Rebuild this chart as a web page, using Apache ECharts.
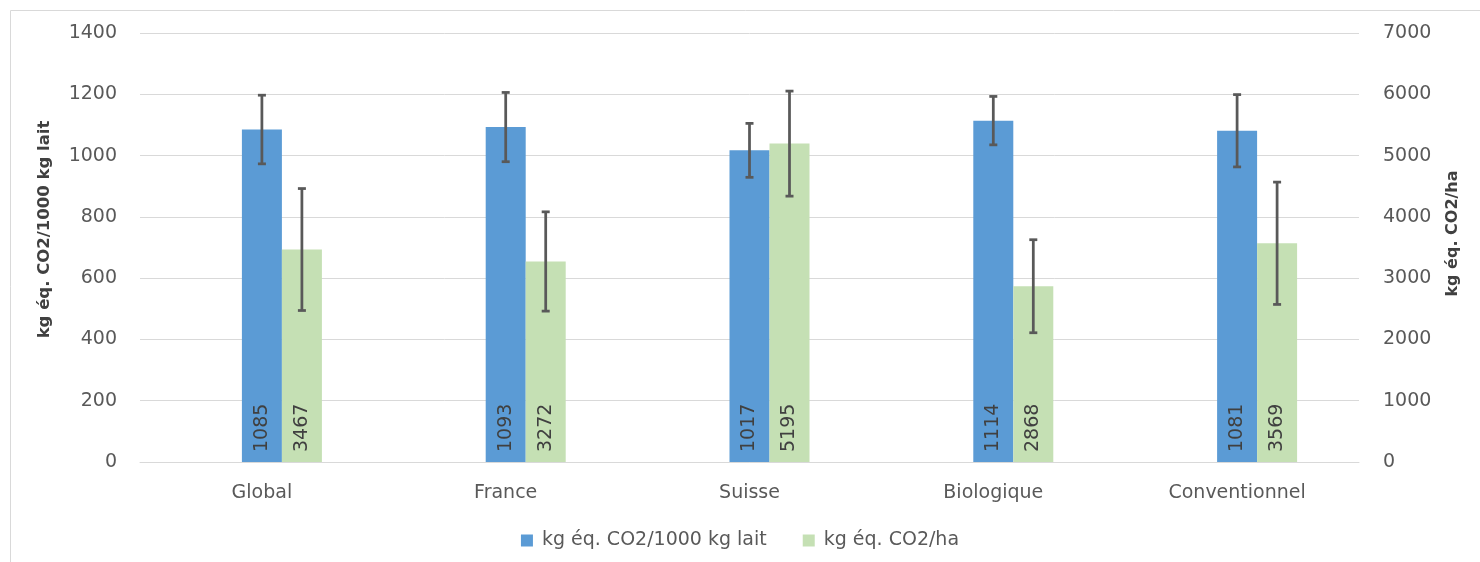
<!DOCTYPE html>
<html>
<head>
<meta charset="utf-8">
<script src="https://cdn.jsdelivr.net/npm/echarts@6/dist/echarts.min.js"></script>
<style>
html,body{margin:0;padding:0;background:#fff;}
#c{width:1480px;height:562px;}
</style>
</head>
<body>
<div id="c"></div>
<script>
var categories = ['Global', 'France', 'Suisse', 'Biologique', 'Conventionnel'];
var seriesNames = ['kg éq. CO2/1000 kg lait', 'kg éq. CO2/ha'];
var milkValues = [1085, 1093, 1017, 1114, 1081];
var haValues = [3467, 3272, 5195, 2868, 3569];
var milkErr = [112, 113, 88, 79, 118];
var haErr = [995, 810, 857, 759, 998];
var leftTicks = [0, 1400, 200];
var rightTicks = [0, 7000, 1000];

var FONT = '"DejaVu Sans", "Open Sans", sans-serif';
var TXT = '#595959';
var BW = 40;
var FS = 19;

function errData(vals, errs) {
  return vals.map(function (v, i) { return [i, v - errs[i], v + errs[i]]; });
}
function errRender(shift) {
  return function (params, api) {
    var i = api.value(0);
    var lo = api.coord([i, api.value(1)]);
    var hi = api.coord([i, api.value(2)]);
    var x = lo[0] + shift;
    var cap = 4;
    var st = { stroke: '#595959', lineWidth: 2.75 };
    return {
      type: 'group',
      children: [
        { type: 'line', shape: { x1: x, y1: hi[1], x2: x, y2: lo[1] }, style: st },
        { type: 'line', shape: { x1: x - cap, y1: hi[1], x2: x + cap, y2: hi[1] }, style: st },
        { type: 'line', shape: { x1: x - cap, y1: lo[1], x2: x + cap, y2: lo[1] }, style: st }
      ]
    };
  };
}

var labelCfg = {
  show: true, position: 'insideBottom', rotate: 90, align: 'left', verticalAlign: 'middle',
  distance: 10, color: '#404040', fontSize: FS, fontFamily: FONT
};

var chart = echarts.init(document.getElementById('c'), null, { renderer: 'canvas' });
chart.setOption({
  animation: false,
  textStyle: { fontFamily: FONT },
  graphic: [{
    type: 'rect', left: 8, top: 8, shape: { width: 1600, height: 700 },
    style: { fill: 'none', stroke: '#d9d9d9', lineWidth: 1 }, silent: true
  }],
  grid: { left: 140, right: 121, top: 33, bottom: 100 },
  legend: {
    data: seriesNames, bottom: 7, left: 'center', itemWidth: 12, itemHeight: 12, itemGap: 36,
    icon: 'rect', textStyle: { color: TXT, fontSize: FS, fontFamily: FONT, padding: [0, 0, 0, 4] }
  },
  xAxis: {
    type: 'category', data: categories,
    axisLine: { show: true, lineStyle: { color: '#d9d9d9' } },
    axisTick: { show: false },
    axisLabel: { color: TXT, fontSize: FS, margin: 22, fontFamily: FONT }
  },
  yAxis: [{
    type: 'value', min: leftTicks[0], max: leftTicks[1], interval: leftTicks[2],
    name: seriesNames[0], nameLocation: 'middle', nameGap: 87,
    nameTextStyle: { color: '#404040', fontSize: 16.5, fontWeight: 'bold', fontFamily: FONT, padding: [0, 0, 0, 36] },
    axisLabel: { color: TXT, fontSize: FS, margin: 23, fontFamily: FONT, formatter: function (v) { return String(v); } },
    axisLine: { show: false }, axisTick: { show: false },
    splitLine: { lineStyle: { color: '#d9d9d9', width: 1 } }
  }, {
    type: 'value', min: rightTicks[0], max: rightTicks[1], interval: rightTicks[2],
    name: seriesNames[1], nameLocation: 'middle', nameGap: 86,
    nameTextStyle: { color: '#404040', fontSize: 16, fontWeight: 'bold', fontFamily: FONT, padding: [0, 0, 0, 28] },
    axisLabel: { color: TXT, fontSize: FS, margin: 24, fontFamily: FONT, formatter: function (v) { return String(v); } },
    axisLine: { show: false }, axisTick: { show: false },
    splitLine: { show: false }
  }],
  series: [{
    name: 'spacer', type: 'bar', yAxisIndex: 0, barWidth: BW, barGap: '0%',
    data: categories.map(function () { return null; })
  }, {
    name: seriesNames[0], type: 'bar', yAxisIndex: 0, barWidth: BW, barGap: '0%',
    itemStyle: { color: '#5b9bd5' }, label: labelCfg, data: milkValues
  }, {
    name: seriesNames[1], type: 'bar', yAxisIndex: 1, barWidth: BW, barGap: '0%',
    itemStyle: { color: '#c5e0b4' }, label: labelCfg, data: haValues
  }, {
    type: 'custom', yAxisIndex: 0, renderItem: errRender(0), z: 10,
    data: errData(milkValues, milkErr)
  }, {
    type: 'custom', yAxisIndex: 1, renderItem: errRender(BW), z: 10,
    data: errData(haValues, haErr)
  }]
});
</script>
</body>
</html>
